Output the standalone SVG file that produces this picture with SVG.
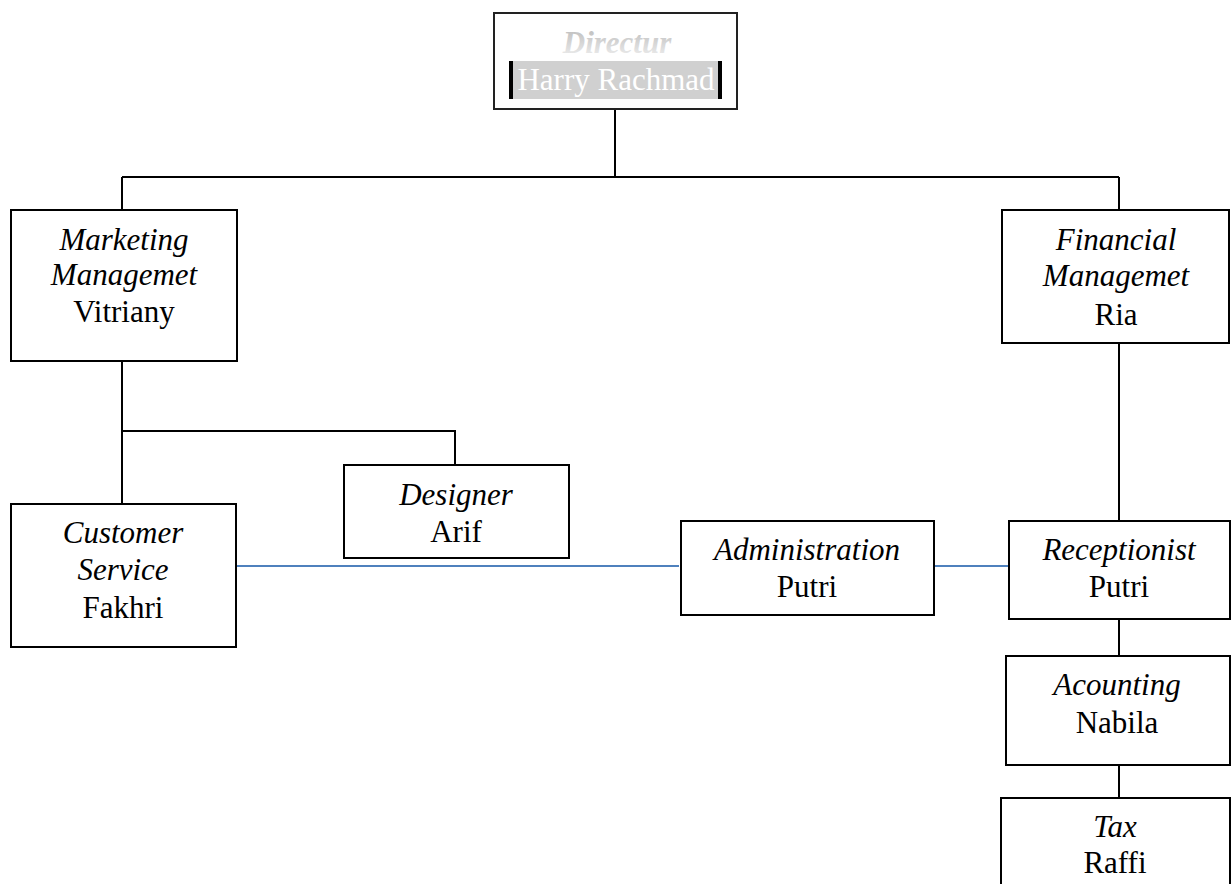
<svg xmlns="http://www.w3.org/2000/svg" width="1232" height="884" viewBox="0 0 1232 884">
<defs>
<linearGradient id="dg" x1="0" y1="0" x2="0" y2="1">
<stop offset="0" stop-color="#b8b8b8"/>
<stop offset="1" stop-color="#f2f2f2"/>
</linearGradient>
<style>
.box{fill:#fff;stroke:#000;stroke-width:2}
.ln{stroke:#000;stroke-width:2;fill:none}
.bl{stroke:#4f81bd;stroke-width:2;fill:none}
text{font-family:"Liberation Serif","Times New Roman",serif;font-size:31px;text-anchor:middle;fill:#000}
.it{font-style:italic}
</style>
</defs>
<rect width="1232" height="884" fill="#fff"/>
<g id="connectors">
<path class="ln" d="M615 109V177M122 177H1119M122 177V210M1119 177V210"/>
<path class="ln" d="M122 361V504M122 431H455V465"/>
<path class="ln" d="M1119 343V521M1119 619V656M1119 765V798"/>
<path class="bl" d="M236 566H679M934 566H1010"/>
</g>
<g id="directur">
<rect x="494" y="13" width="243" height="96" fill="#fff" stroke="#222" stroke-width="2"/>
<text x="617" y="53" class="it" font-weight="bold" fill="url(#dg)" style="fill:url(#dg)">Directur</text>
<rect x="513" y="61" width="205" height="38" fill="#d0d0d0"/>
<rect x="509" y="61" width="4" height="38" fill="#000"/>
<rect x="718" y="61" width="4" height="38" fill="#000"/>
<text x="616" y="90" style="fill:#fff">Harry Rachmad</text>
</g>
<g id="marketing">
<rect class="box" x="11" y="210" width="226" height="151"/>
<text x="124" y="250" class="it">Marketing</text>
<text x="124" y="285" class="it">Managemet</text>
<text x="124" y="322">Vitriany</text>
</g>
<g id="financial">
<rect class="box" x="1002" y="210" width="227" height="133"/>
<text x="1116" y="250" class="it">Financial</text>
<text x="1116" y="286" class="it">Managemet</text>
<text x="1116" y="325">Ria</text>
</g>
<g id="designer">
<rect class="box" x="344" y="465" width="225" height="93"/>
<text x="456" y="505" class="it">Designer</text>
<text x="456" y="542">Arif</text>
</g>
<g id="customer">
<rect class="box" x="11" y="504" width="225" height="143"/>
<text x="123" y="543" class="it">Customer</text>
<text x="123" y="580" class="it">Service</text>
<text x="123" y="618">Fakhri</text>
</g>
<g id="administration">
<rect class="box" x="681" y="521" width="253" height="94"/>
<text x="807" y="560" class="it">Administration</text>
<text x="807" y="597">Putri</text>
</g>
<g id="receptionist">
<rect class="box" x="1009" y="521" width="221" height="98"/>
<text x="1119" y="560" class="it">Receptionist</text>
<text x="1119" y="597">Putri</text>
</g>
<g id="acounting">
<rect class="box" x="1006" y="656" width="224" height="109"/>
<text x="1117" y="695" class="it">Acounting</text>
<text x="1117" y="733">Nabila</text>
</g>
<g id="tax">
<rect class="box" x="1001" y="798" width="229" height="100"/>
<text x="1115" y="837" class="it">Tax</text>
<text x="1115" y="873">Raffi</text>
</g>
</svg>
